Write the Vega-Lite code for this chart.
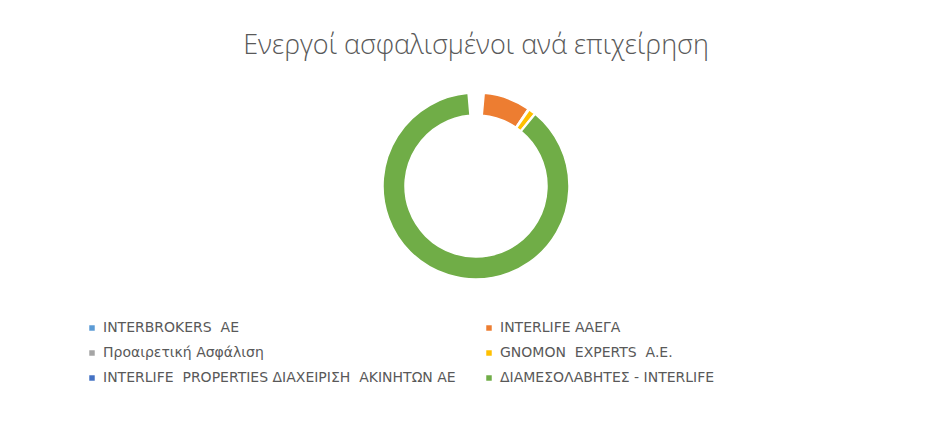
{
  "$schema": "https://vega.github.io/schema/vega-lite/v6.json",
  "autosize": "none",
  "width": 936,
  "height": 192,
  "padding": {"left": 8, "top": 90, "right": 0, "bottom": 142},
  "background": "white",
  "config": {
    "view": {"stroke": null},
    "font": "Open Sans"
  },
  "title": {
    "text": "Ενεργοί ασφαλισμένοι ανά επιχείρηση",
    "anchor": "middle",
    "font": "Open Sans",
    "fontSize": 27,
    "fontWeight": 300,
    "color": "#595959",
    "baseline": "alphabetic",
    "offset": 9
  },
  "data": {
    "values": [
      {"company": "INTERBROKERS  AE", "insured": 5, "rank": 1},
      {"company": "INTERLIFE ΑΑΕΓΑ", "insured": 830, "rank": 2},
      {"company": "Προαιρετική Ασφάλιση", "insured": 25, "rank": 3},
      {"company": "GNOMON  EXPERTS  A.E.", "insured": 115, "rank": 4},
      {"company": "INTERLIFE  PROPERTIES ΔΙΑΧΕΙΡΙΣΗ  ΑΚΙΝΗΤΩΝ ΑΕ", "insured": 15, "rank": 5},
      {"company": "ΔΙΑΜΕΣΟΛΑΒΗΤΕΣ - INTERLIFE", "insured": 9010, "rank": 6}
    ]
  },
  "mark": {"type": "arc", "outerRadius": 93, "innerRadius": 71, "stroke": "white", "strokeWidth": 1.5},
  "encoding": {
    "theta": {"field": "insured", "type": "quantitative", "stack": true, "scale": {"range": [0.085, 6.198]}},
    "order": {"field": "rank", "type": "quantitative"},
    "color": {
      "field": "company",
      "type": "nominal",
      "sort": null,
      "scale": {
        "domain": ["INTERBROKERS  AE", "INTERLIFE ΑΑΕΓΑ", "Προαιρετική Ασφάλιση", "GNOMON  EXPERTS  A.E.", "INTERLIFE  PROPERTIES ΔΙΑΧΕΙΡΙΣΗ  ΑΚΙΝΗΤΩΝ ΑΕ", "ΔΙΑΜΕΣΟΛΑΒΗΤΕΣ - INTERLIFE"],
        "range": ["#5B9BD5", "#ED7D31", "#A5A5A5", "#FFC000", "#4472C4", "#70AD47"]
      },
      "legend": {
        "title": null,
        "orient": "none",
        "legendX": 77,
        "legendY": 231,
        "direction": "horizontal",
        "columns": 2,
        "gridAlign": "each",
        "columnPadding": 26,
        "rowPadding": 11,
        "padding": 0,
        "symbolType": "square",
        "symbolSize": 30,
        "symbolStrokeWidth": 0,
        "labelFont": "DejaVu Sans",
        "labelFontSize": 14,
        "labelColor": "#595959",
        "labelLimit": 600,
        "labelOffset": 4,
        "labelExpr": "replace(datum.label, regexp(' ', 'g'), '\u00a0')"
      }
    }
  }
}
